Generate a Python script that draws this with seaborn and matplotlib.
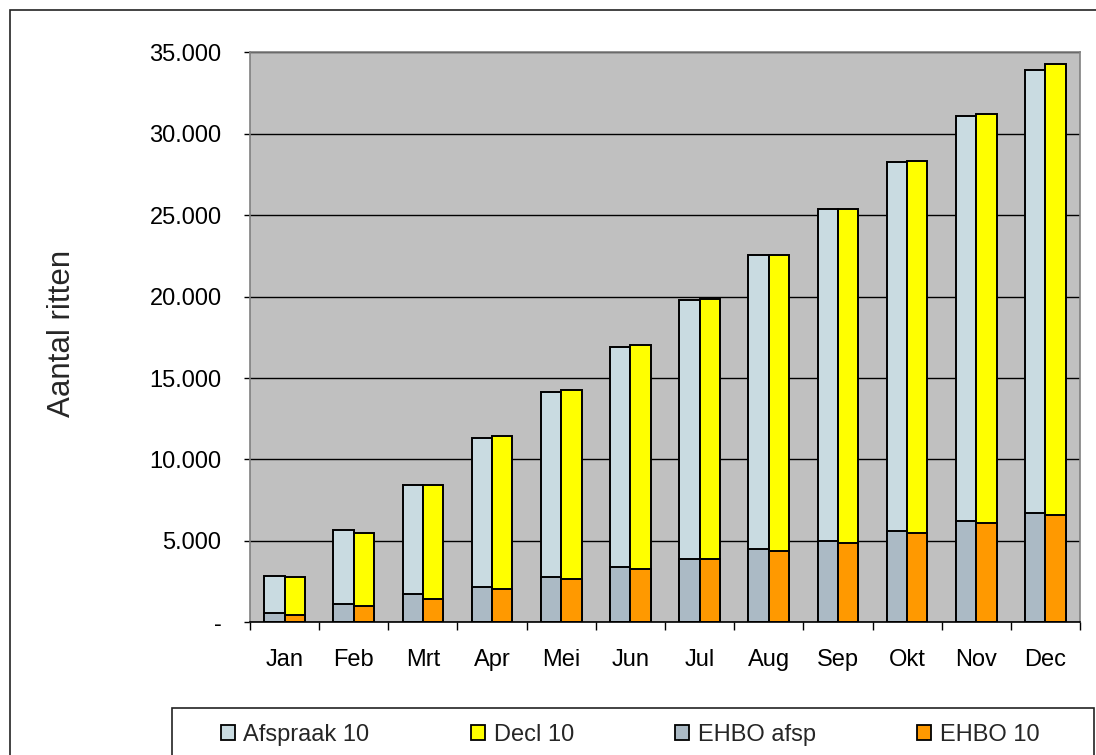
import matplotlib
matplotlib.use("Agg")
import matplotlib.pyplot as plt
from matplotlib.patches import Patch, Rectangle
from matplotlib.ticker import FuncFormatter, FixedLocator
import seaborn as sns
import pandas as pd

months = ["Jan", "Feb", "Mrt", "Apr", "Mei", "Jun", "Jul", "Aug", "Sep", "Okt", "Nov", "Dec"]
ehbo_afsp = [590, 1100, 1720, 2190, 2780, 3400, 3900, 4490, 4980, 5590, 6220, 6710]
afspraak_10 = [2250, 4550, 6730, 9110, 11340, 13530, 15880, 18070, 20420, 22660, 24840, 27190]
ehbo_10 = [470, 980, 1460, 2070, 2660, 3280, 3880, 4390, 4850, 5490, 6100, 6590]
decl_10 = [2330, 4520, 6990, 9350, 11590, 13770, 16000, 18170, 20530, 22860, 25140, 27680]
y_ticks = [0, 5000, 10000, 15000, 20000, 25000, 30000, 35000]
legend_labels = ["Afspraak 10", "Decl 10", "EHBO afsp", "EHBO 10"]
y_label = "Aantal ritten"

c_afspraak = "#C9DBE1"
c_decl = "#FFFF00"
c_ehbo_afsp = "#ABBAC5"
c_ehbo_10 = "#FF9900"

sns.set_style("white")
plt.rcParams["font.family"] = ["Liberation Sans", "DejaVu Sans"]

W, H = 1096, 755
fig = plt.figure(figsize=(W / 100, H / 100), dpi=100)
ax = fig.add_axes([250 / W, 1 - 622.3 / H, (1080 - 250) / W, (622.3 - 52.3) / H])
ax.set_facecolor("#C0C0C0")

groups = ["A", "D"]
top_df = pd.DataFrame({
    "month": months * 2,
    "group": ["A"] * 12 + ["D"] * 12,
    "value": [a + b for a, b in zip(ehbo_afsp, afspraak_10)] + [a + b for a, b in zip(ehbo_10, decl_10)],
})
bot_df = pd.DataFrame({
    "month": months * 2,
    "group": ["A"] * 12 + ["D"] * 12,
    "value": ehbo_afsp + ehbo_10,
})

common = dict(x="month", y="value", hue="group", order=months, hue_order=groups,
              dodge=True, width=0.59, gap=0, edgecolor="black", linewidth=1.4,
              errorbar=None, legend=False, ax=ax, saturation=1)
sns.barplot(data=top_df, palette=[c_afspraak, c_decl], **common)
sns.barplot(data=bot_df, palette=[c_ehbo_afsp, c_ehbo_10], **common)

ax.set_xlim(-0.5, 11.5)
ax.set_ylim(0, 35000)
ax.set_axisbelow(True)
ax.yaxis.grid(True, color="black", linewidth=1)
ax.xaxis.grid(False)
ax.yaxis.set_major_locator(FixedLocator(y_ticks))
ax.yaxis.set_major_formatter(FuncFormatter(lambda v, p: "-" if v == 0 else f"{v:,.0f}".replace(",", ".")))
ax.tick_params(axis="y", which="major", left=True, length=4.5, width=1, color="black",
               labelsize=17, pad=16, labelcolor="black")
ax.set_xticks(range(12))
ax.set_xticklabels(months)
ax.set_xticks([i - 0.5 for i in range(13)], minor=True)
ax.tick_params(axis="x", which="major", length=0, labelsize=17, pad=19.5, labelcolor="black")
ax.tick_params(axis="x", which="minor", bottom=True, length=6, width=1, color="black")
ax.set_xlabel("")
ax.set_ylabel("")

for s in ["top", "right", "left"]:
    ax.spines[s].set_visible(True)
    ax.spines[s].set_color("#808080")
    ax.spines[s].set_linewidth(1.2)
ax.spines["bottom"].set_color("black")
ax.spines["bottom"].set_linewidth(1.2)

fig.text(62 / W, 1 - 333 / H, y_label, rotation=90, ha="center", va="center", fontsize=22.5)

# outer chart border
fig.patches.append(Rectangle((10 / W, -0.05), 1.1, (1 - 10 / H) + 0.05, transform=fig.transFigure,
                             fill=False, edgecolor="#222222", linewidth=1.2))
# legend box
fig.patches.append(Rectangle((172 / W, -0.05), (1094 - 172) / W, (1 - 708 / H) + 0.05,
                             transform=fig.transFigure, fill=False, edgecolor="#222222", linewidth=1.2))

handles = [Patch(facecolor=c, edgecolor="black", linewidth=1.3)
           for c in [c_afspraak, c_decl, c_ehbo_afsp, c_ehbo_10]]
fig.legend(handles, legend_labels, ncol=4, loc="center left",
           bbox_to_anchor=(221 / W, 1 - 735 / H), frameon=False, fontsize=17,
           handlelength=0.6, handleheight=0.6, handletextpad=0.35, columnspacing=4.3,
           borderpad=0, borderaxespad=0)

fig.savefig("out.png", dpi=100)
